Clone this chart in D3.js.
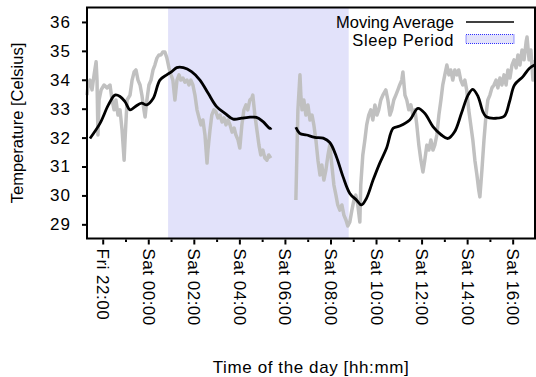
<!DOCTYPE html>
<html>
<head>
<meta charset="utf-8">
<script src="https://cdn.jsdelivr.net/npm/d3@7"></script>
<style>
  body { margin: 0; background: #fff; }
  text { font-family: "Liberation Sans", Arial, sans-serif; }
</style>
</head>
<body>
<svg id="chart" width="536" height="377"></svg>
<script>
// hours counted from Fri 00:00
const rawHours = [21.31,21.36,21.44,21.53,21.62,21.71,21.75,21.79,21.84,21.93,22.06,22.19,22.32,22.41,22.50,22.58,22.67,22.76,22.85,22.94,22.98,
  23.07,23.20,23.29,23.38,23.46,23.55,23.64,23.72,23.81,23.86,23.94,24.03,24.12,24.21,24.29,24.38,24.47,24.56,24.64,24.73,24.82,24.91,
  25.00,25.08,25.17,25.26,25.35,25.43,25.52,25.61,25.70,25.79,25.87,25.96,26.05,26.14,26.23,26.31,26.40,26.49,26.58,26.62,26.71,26.79,
  26.88,26.97,27.06,27.15,27.24,27.33,27.41,27.50,27.59,27.68,27.77,27.85,27.94,28.02,28.11,28.20,28.29,28.37,28.46,28.55,28.59,28.68,
  28.77,28.86,28.94,29.03,29.12,29.21,29.29,29.38,
  30.00,
  30.48,30.53,30.57,30.66,30.70,30.75,30.83,30.92,31.01,31.10,31.19,31.27,31.36,31.45,31.54,31.62,31.71,31.80,31.89,31.97,32.06,32.15,
  32.24,32.32,32.41,32.50,32.59,32.68,32.76,32.85,32.94,33.03,33.11,33.20,33.29,33.33,33.42,33.51,33.59,33.68,33.77,33.86,33.95,34.04,
  34.12,34.21,34.30,34.43,34.52,34.61,34.69,34.78,34.87,34.96,35.04,35.13,35.18,35.27,35.35,35.44,35.53,35.62,35.71,35.79,35.88,35.97,
  36.06,36.14,36.23,36.32,36.41,36.50,36.58,36.67,36.76,36.85,36.93,37.02,37.11,37.20,37.28,37.37,37.46,37.55,37.63,37.72,37.81,37.90,
  37.98,38.07,38.16,38.25,38.34,38.43,38.51,38.56,38.65,38.74,38.83,38.91,39.00,39.09,39.18,39.27,39.35,39.44,39.53,39.62,39.71,39.79,
  39.88,39.97,40.06,40.15,40.23,40.32,40.41,40.50,40.59,40.63,40.72,40.80,40.89,40.94];
const rawTemps = [33.47,33.82,33.99,33.65,34.17,34.62,33.99,32.09,33.30,33.65,33.82,33.72,33.82,33.30,32.96,33.30,32.78,32.96,32.26,31.22,31.92,
  33.30,33.47,33.99,34.27,34.34,33.99,33.82,33.47,32.96,32.71,33.30,33.82,33.99,34.34,34.51,34.75,34.86,34.86,34.96,34.96,34.75,34.41,
  34.17,33.99,33.30,33.99,34.17,33.99,34.06,33.92,33.99,33.82,33.99,33.82,33.47,32.96,32.68,32.44,32.61,32.09,31.12,31.57,32.26,32.78,
  32.96,32.89,32.68,32.78,32.54,32.68,32.44,32.61,32.44,32.19,32.33,32.09,31.92,31.64,32.44,32.96,33.13,32.96,33.30,33.37,33.47,32.78,
  32.26,31.74,31.40,31.57,31.29,31.22,31.40,31.29,
  null,
  29.84,31.57,32.96,34.17,33.47,32.96,33.30,32.78,33.13,32.61,32.78,32.44,31.92,31.22,30.71,31.05,30.53,30.88,31.40,31.74,31.05,30.36,
  30.01,29.67,29.49,29.67,29.32,29.15,28.94,29.08,29.49,29.84,30.01,29.67,29.08,30.36,31.40,31.92,32.44,32.78,32.96,32.61,33.13,32.78,
  32.96,33.30,33.47,33.65,33.30,32.78,32.96,33.30,33.47,33.65,33.82,33.99,34.27,33.47,33.30,32.96,33.13,32.78,32.96,32.44,31.74,31.22,
  30.81,31.22,31.74,31.57,31.92,31.57,31.74,32.09,32.78,33.30,33.82,34.17,34.51,34.17,34.34,33.99,34.34,34.17,34.34,33.99,33.82,33.99,
  33.65,32.96,32.44,31.92,31.22,30.71,30.19,29.95,30.88,31.92,32.78,33.30,33.47,33.72,33.82,33.99,33.72,34.06,33.82,34.17,33.82,34.34,
  34.06,34.51,34.69,34.41,34.86,34.51,35.03,34.69,35.31,35.48,34.69,35.03,33.99,34.69];

const avgHours = [21.44,21.88,22.25,22.54,22.76,22.98,23.20,23.42,23.71,23.93,24.22,24.51,24.81,25.03,25.25,25.54,25.90,26.27,26.63,27.00,
  27.37,27.73,28.10,28.39,28.75,29.04,29.34,29.41,
  30.00,
  30.48,30.65,30.95,31.31,31.68,31.97,32.26,32.55,32.85,33.14,33.36,33.58,33.87,34.16,34.46,34.75,35.04,35.48,35.84,36.14,36.50,36.87,
  37.16,37.45,37.75,38.04,38.25,38.48,38.69,38.84,39.28,39.64,39.86,40.08,40.45,40.74,40.96];
const avgTemps = [31.97,32.49,33.13,33.47,33.42,33.24,32.96,33.07,33.19,33.13,33.36,33.99,34.17,34.28,34.42,34.42,34.28,33.99,33.53,33.07,
  32.84,32.64,32.67,32.70,32.70,32.55,32.32,32.34,
  null,
  32.36,32.15,32.09,32.01,31.98,31.83,31.34,30.65,30.07,29.84,29.67,29.90,30.53,31.11,31.63,32.32,32.40,32.61,33.01,32.84,32.38,32.09,
  31.97,32.20,32.84,33.47,33.67,33.42,32.90,32.72,32.67,32.75,33.24,33.82,34.11,34.40,34.51];

const sleepPeriod = [24.87, 32.80];
const yTicks = [29, 30, 31, 32, 33, 34, 35, 36];
const xMajorHours = [22, 24, 26, 28, 30, 32, 34, 36, 38, 40];
const xMinorHours = [23, 25, 27, 29, 31, 33, 35, 37, 39];
const xTickLabels = ['Fri 22:00', 'Sat 00:00', 'Sat 02:00', 'Sat 04:00', 'Sat 06:00',
  'Sat 08:00', 'Sat 10:00', 'Sat 12:00', 'Sat 14:00', 'Sat 16:00'];
const legendLabels = ['Moving Average', 'Sleep Period'];

const base = new Date(2013, 0, 4); // a Friday
const toDate = h => new Date(base.getTime() + h * 3600 * 1000);

const svg = d3.select('#chart');
const plotLeft = 87, plotRight = 535, plotTop = 7.5, plotBottom = 238.5;

const x = d3.scaleTime()
  .domain([toDate(21.31), toDate(40.98)])
  .range([plotLeft, plotRight]);
const y = d3.scaleLinear()
  .domain([28.51, 36.50])
  .range([plotBottom, plotTop]);

// sleep period band
svg.append('rect')
  .attr('x', x(toDate(sleepPeriod[0])))
  .attr('y', plotTop)
  .attr('width', x(toDate(sleepPeriod[1])) - x(toDate(sleepPeriod[0])))
  .attr('height', plotBottom - plotTop)
  .attr('fill', '#e2e2fa');

const raw = rawHours.map((h, i) => ({ d: toDate(h), t: rawTemps[i] }));
const avg = avgHours.map((h, i) => ({ d: toDate(h), t: avgTemps[i] }));

const line = d3.line()
  .defined(p => p.t !== null)
  .x(p => x(p.d))
  .y(p => y(p.t));

svg.append('path')
  .datum(raw)
  .attr('d', line)
  .attr('fill', 'none')
  .attr('stroke', '#c0c0c0')
  .attr('stroke-width', 3.5)
  .attr('stroke-linejoin', 'round');

svg.append('path')
  .datum(avg)
  .attr('d', line.curve(d3.curveCatmullRom))
  .attr('fill', 'none')
  .attr('stroke', '#000')
  .attr('stroke-width', 2.8)
  .attr('stroke-linejoin', 'round');

// y axis
const yAxis = svg.append('g')
  .attr('transform', 'translate(' + (plotLeft - 1) + ',0)')
  .call(d3.axisLeft(y).tickValues(yTicks).tickSize(4).tickSizeOuter(0).tickPadding(11));
yAxis.select('.domain').remove();
yAxis.selectAll('line').attr('stroke-width', 2);
yAxis.selectAll('text').attr('font-size', 17).attr('fill', '#000')
  .attr('letter-spacing', 1)
  .style('font-family', '"Liberation Sans", Arial, sans-serif');

// x axis, minor ticks
const xMinor = svg.append('g')
  .attr('transform', 'translate(0,' + (plotBottom + 1) + ')')
  .call(d3.axisBottom(x).tickValues(xMinorHours.map(toDate)).tickSize(2.5).tickSizeOuter(0).tickFormat(''));
xMinor.select('.domain').remove();
xMinor.selectAll('line').attr('stroke-width', 2);

// x axis, major ticks
const xAxis = svg.append('g')
  .attr('transform', 'translate(0,' + (plotBottom + 1) + ')')
  .call(d3.axisBottom(x).tickValues(xMajorHours.map(toDate)).tickSize(5).tickSizeOuter(0)
    .tickFormat((d, i) => xTickLabels[i]));
xAxis.select('.domain').remove();
xAxis.selectAll('line').attr('stroke-width', 2);
xAxis.selectAll('text')
  .attr('font-size', 17)
  .attr('fill', '#000')
  .attr('letter-spacing', 0.5)
  .style('font-family', '"Liberation Sans", Arial, sans-serif')
  .attr('text-anchor', 'start')
  .attr('transform', 'translate(0,9) rotate(90)')
  .attr('x', 0)
  .attr('y', 0)
  .attr('dy', '0.35em');

// frame
svg.append('rect')
  .attr('x', plotLeft)
  .attr('y', plotTop)
  .attr('width', plotRight - plotLeft)
  .attr('height', plotBottom - plotTop)
  .attr('fill', 'none')
  .attr('stroke', '#000')
  .attr('stroke-width', 2);

// axis titles
svg.append('text')
  .attr('transform', 'translate(23,' + ((plotTop + plotBottom) / 2) + ') rotate(-90)')
  .attr('text-anchor', 'middle')
  .attr('font-size', 16.5)
  .text('Temperature [Celsius]');

svg.append('text')
  .attr('x', (plotLeft + plotRight) / 2)
  .attr('y', 373)
  .attr('text-anchor', 'middle')
  .attr('font-size', 17)
  .attr('letter-spacing', 0.6)
  .text('Time of the day [hh:mm]');

// legend
const legend = svg.append('g');
legend.append('text')
  .attr('x', 454).attr('y', 28)
  .attr('text-anchor', 'end')
  .attr('font-size', 16.5)
  .text(legendLabels[0]);
legend.append('line')
  .attr('x1', 466).attr('x2', 514)
  .attr('y1', 22).attr('y2', 22)
  .attr('stroke', '#000')
  .attr('stroke-width', 1.5);
legend.append('text')
  .attr('x', 454).attr('y', 46)
  .attr('text-anchor', 'end')
  .attr('font-size', 16.5)
  .attr('letter-spacing', 0.6)
  .text(legendLabels[1]);
legend.append('rect')
  .attr('x', 466).attr('y', 34.5)
  .attr('width', 48).attr('height', 9)
  .attr('fill', '#e2e2fa')
  .attr('stroke', '#3030ff')
  .attr('stroke-width', 1)
  .attr('stroke-dasharray', '1,1');
</script>
</body>
</html>
